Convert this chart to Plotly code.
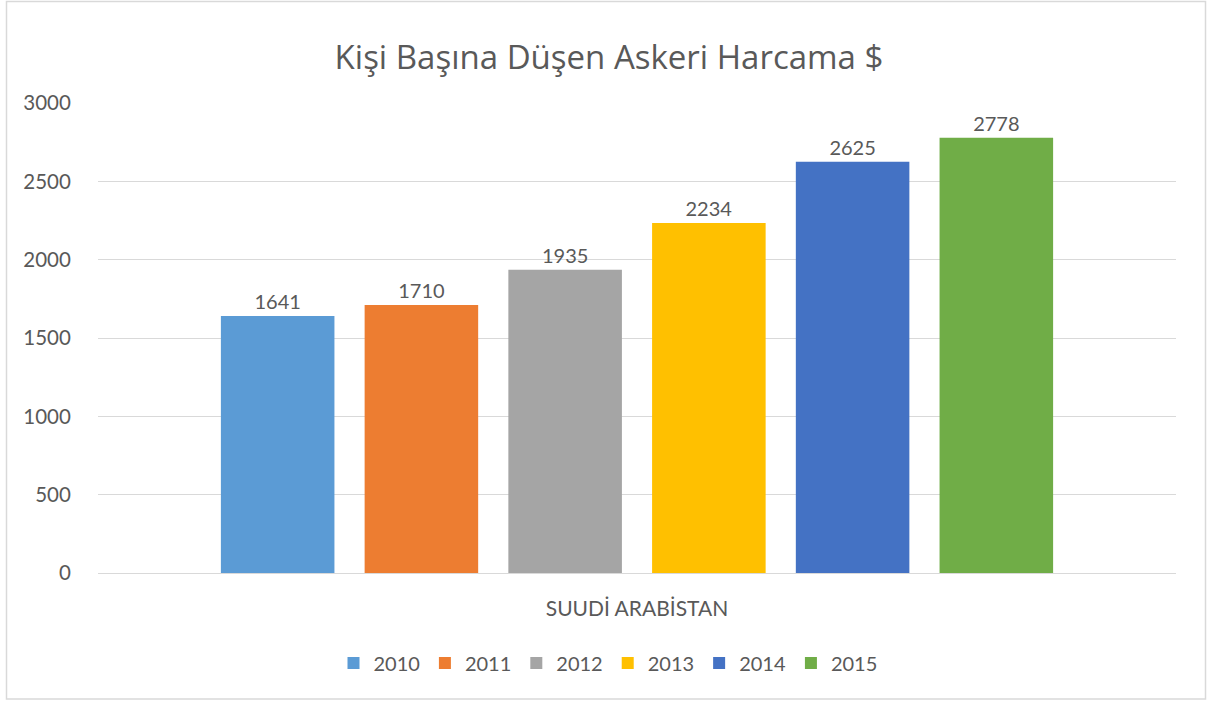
import plotly.graph_objects as go

category = ["SUUDİ ARABİSTAN"]
years = ["2010", "2011", "2012", "2013", "2014", "2015"]
values = [1641, 1710, 1935, 2234, 2625, 2778]
colors = ["#5B9BD5", "#ED7D31", "#A5A5A5", "#FFC000", "#4472C4", "#70AD47"]
title = "Kişi Başına Düşen Askeri Harcama $"

FONT = "Lato, Open Sans, sans-serif"
TFONT = "Open Sans, Lato, sans-serif"
GREY = "#595959"

fig = go.Figure()
for yr, v, c in zip(years, values, colors):
    fig.add_trace(go.Bar(
        x=category, y=[v], name=yr, marker=dict(color=c, line=dict(width=0)),
        text=[str(v)], textposition="outside", cliponaxis=False,
        textfont=dict(family=FONT, size=20, color=GREY),
    ))

W, H = 1211, 701
L, R, T, B = 98, 35, 103, 128
pw, ph = W - L - R, H - T - B

def px(x):
    return (x - L) / pw

def py(y):
    return (H - B - y) / ph

fig.update_layout(
    width=W, height=H,
    margin=dict(l=L, r=R, t=T, b=B),
    paper_bgcolor="white", plot_bgcolor="white",
    barmode="group", bargap=0.2, bargroupgap=0.21,
    title=dict(text=title, x=px(609), xref="paper", xanchor="center", y=1 - 57 / H, yanchor="middle",
               font=dict(family=TFONT, size=33, color=GREY)),
    font=dict(family=FONT, color=GREY),
    showlegend=True,
    legend=dict(orientation="h", x=px(608), xanchor="center", y=py(663), yanchor="middle",
                font=dict(family=FONT, size=20, color=GREY), itemwidth=30, traceorder="normal",
                bgcolor="rgba(0,0,0,0)"),
    xaxis=dict(showgrid=False, showline=True, linecolor="#d9d9d9", linewidth=1,
               ticks="outside", ticklen=17, tickcolor="rgba(0,0,0,0)",
               tickfont=dict(family=FONT, size=21, color=GREY)),
    yaxis=dict(range=[0, 3000], tickvals=[0, 500, 1000, 1500, 2000, 2500, 3000],
               showgrid=True, gridcolor="#d9d9d9", gridwidth=1,
               zeroline=True, zerolinecolor="#d9d9d9", zerolinewidth=1,
               ticks="outside", ticklen=22, tickcolor="rgba(0,0,0,0)",
               tickfont=dict(family=FONT, size=20.5, color=GREY)),
    shapes=[dict(type="rect", xref="paper", yref="paper",
                 x0=px(6.5), x1=px(1205.5), y0=py(699), y1=py(1.5),
                 line=dict(color="#d9d9d9", width=1.5), fillcolor="rgba(0,0,0,0)", layer="below")],
)

fig.write_html("out.html", config={"displayModeBar": False},
               post_script="document.body.style.margin='0';document.body.style.overflow='hidden';")
